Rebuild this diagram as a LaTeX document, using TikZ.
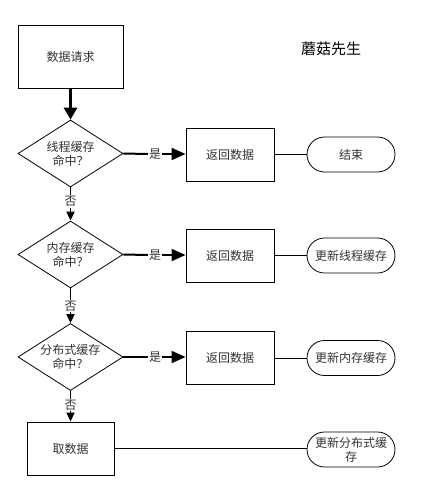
\documentclass[tikz,border=0pt]{standalone}
\usepackage{fontspec}
\setmainfont{Noto Sans CJK SC}
\usetikzlibrary{shapes.geometric,shapes.misc,arrows.meta}
\begin{document}
\begin{tikzpicture}[x=1pt,y=-1pt,
  every node/.style={font=\fontsize{12}{14}\selectfont, text=black!80},
  boxn/.style={draw, line width=0.9pt, rectangle, inner sep=0pt, align=center},
  dec/.style={draw, line width=0.8pt, diamond, aspect=1.57, inner sep=0pt, minimum width=105pt, minimum height=67pt, align=center},
  term/.style={draw, line width=0.8pt, rounded rectangle, inner sep=0pt, minimum width=88pt, minimum height=35pt, align=center},
  lab/.style={inner sep=1pt, fill=white},
  bigarrow/.style={line width=3.5pt, -{Triangle[length=12pt,width=13pt]}},
  yesline/.style={line width=2pt},
  yesarrow/.style={line width=2pt, -{Triangle[length=14pt,width=12pt]}},
  noline/.style={line width=1.8pt},
  noarrow/.style={line width=1.8pt, -{Triangle[length=9pt,width=8pt]}},
  thinline/.style={line width=0.9pt}
]
\useasboundingbox (0,0) rectangle (428,491);
\fill[white] (0,0) rectangle (428,491);

\node[font=\fontsize{15}{18}\selectfont, text=black] (title) at (331,49) {蘑菇先生};

\node[boxn, minimum width=105pt, minimum height=63pt] (req) at (70.5,56.5) {数据请求};

\node[dec] (d1) at (70.5,153.5) {线程缓存\\命中？};
\node[dec] (d2) at (70.5,254.5) {内存缓存\\命中？};
\node[dec] (d3) at (70.5,357) {分布式缓存\\命中？};

\node[boxn, minimum width=87pt, minimum height=53pt] (get) at (70.5,448.5) {取数据};

\node[boxn, minimum width=88pt, minimum height=53pt] (r1) at (230,154.5) {返回数据};
\node[boxn, minimum width=88pt, minimum height=53pt] (r2) at (230,255.5) {返回数据};
\node[boxn, minimum width=88pt, minimum height=53pt] (r3) at (230,358) {返回数据};

\node[term] (e1) at (351,154.5) {结束};
\node[term] (e2) at (351,255.5) {更新线程缓存};
\node[term] (e3) at (351,358) {更新内存缓存};
\node[term] (e4) at (351,449.5) {更新分布式缓\\存};

\node[lab] (y1) at (155,154) {是};
\node[lab] (y2) at (155,255) {是};
\node[lab] (y3) at (155,357) {是};

\node[lab] (n1) at (70.5,201.5) {否};
\node[lab] (n2) at (70.5,306) {否};
\node[lab] (n3) at (70.5,405) {否};

\draw[bigarrow] (req.south) -- (d1.north);

\draw[yesline] (d1.east) -- (y1.west);
\draw[yesarrow] (y1.east) -- (r1.west |- y1.east);
\draw[yesline] (d2.east) -- (y2.west);
\draw[yesarrow] (y2.east) -- (r2.west |- y2.east);
\draw[yesline] (d3.east) -- (y3.west);
\draw[yesarrow] (y3.east) -- (r3.west |- y3.east);

\draw[noline] (d1.south) -- (n1.north);
\draw[noarrow] (n1.south) -- (d2.north);
\draw[noline] (d2.south) -- (n2.north);
\draw[noarrow] (n2.south) -- (d3.north);
\draw[noline] (d3.south) -- (n3.north);
\draw[noarrow] (n3.south) -- (get.north);

\draw[thinline] (r1.east) -- (e1.west);
\draw[thinline] (r2.east) -- (e2.west);
\draw[thinline] (r3.east) -- (e3.west);
\draw[line width=1.4pt] (get.east) -- (e4.west |- get.east);
\end{tikzpicture}
\end{document}
